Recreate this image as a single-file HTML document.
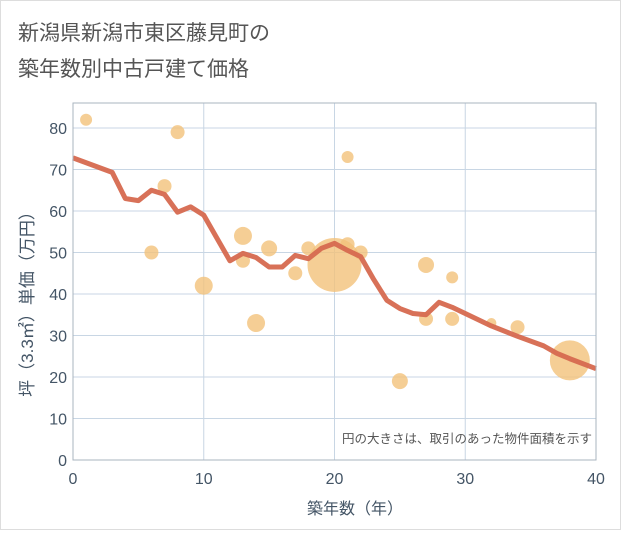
<!DOCTYPE html>
<html><head><meta charset="utf-8"><style>
body{margin:0;background:#fff}
svg text{font-family:"Liberation Sans","Noto Sans CJK JP",sans-serif}
</style></head><body>
<svg id="chart" width="621" height="530" viewBox="0 0 621 530" xmlns="http://www.w3.org/2000/svg">
<rect x="0.5" y="0.5" width="620" height="529" fill="#fff" stroke="#ddd"/>
<text x="18" y="40" font-size="21" fill="#555">新潟県新潟市東区藤見町の</text>
<text x="18" y="76" font-size="21" fill="#555">築年数別中古戸建て価格</text>
<g id="grid"></g>
<g id="bubbles"></g>
<g id="line"></g>
<g id="axes"></g>
<text x="592" y="443" font-size="12.5" fill="#555" text-anchor="end">円の大きさは、取引のあった物件面積を示す</text>
<text x="355" y="514" font-size="16" fill="#456" text-anchor="middle">築年数（年）</text>
<text transform="translate(33,300) rotate(-90)" font-size="17" fill="#456" text-anchor="middle">坪（3.3㎡）単価（万円）</text>
</svg>
<script>
const xTicks=[0,10,20,30,40];
const yTicks=[0,10,20,30,40,50,60,70,80];
const bubbleYears=[1,8,7,6,10,13,13,14,15,17,18,20,21,21,22,25,27,27,29,29,32,34,38];
const bubbleValues=[82,79,66,50,42,54,48,33,51,45,51,47,52,73,50,19,47,34,44,34,33,32,24];
const bubbleRadii=[6,7,7,7,9,9,7,9,8,7,7,27,7,6,7,8,8,7,6,7,5,7,20];
const lineYears=[0,3,4,5,6,7,8,9,10,11,12,13,14,15,16,17,18,19,20,21,22,23,24,25,26,27,28,29,30,32,34,36,37,38,40];
const lineValues=[72.8,69.3,63,62.5,65,64,59.7,61,59,53.5,48,49.8,48.8,46.5,46.5,49.3,48.5,51,52.2,50.5,49,43.5,38.5,36.5,35.3,35,38,36.8,35.3,32.3,29.8,27.5,25.7,24.4,22];
const L=73,R=596,T=103,B=460;
const xS=v=>L+(v-0)/40*(R-L);
const yS=v=>B-v/80*(B-128);
const NS="http://www.w3.org/2000/svg";
function mk(tag,attrs,parent){const e=document.createElementNS(NS,tag);for(const k in attrs)e.setAttribute(k,attrs[k]);parent.appendChild(e);return e;}
const grid=document.getElementById('grid'),axes=document.getElementById('axes');
yTicks.forEach(t=>{
 const l=mk('line',{x1:L,x2:R,y1:yS(t),y2:yS(t),stroke:'#c8d6e4','stroke-width':1},grid);
 
 
 const tx=mk('text',{x:L-6,y:yS(t)+6,'font-size':16,fill:'#456','text-anchor':'end'},axes);
 tx.textContent=t;
 
 
});
xTicks.forEach(t=>{
 const l=mk('line',{x1:xS(t),x2:xS(t),y1:T,y2:B,stroke:'#c8d6e4','stroke-width':1},grid);
 
 
 const tx=mk('text',{x:xS(t),y:B+24,'font-size':16,fill:'#456','text-anchor':'middle'},axes);
 tx.textContent=t;
 
 
});
const fr=mk('rect',{x:L,y:T,width:R-L,height:B-T,fill:'none',stroke:'#aab4bf','stroke-width':1},axes);


const bg=document.getElementById('bubbles');
bubbleYears.forEach((yr,i)=>{
 const c=mk('circle',{cx:xS(yr),cy:yS(bubbleValues[i]),r:bubbleRadii[i],fill:'#f3c27a','fill-opacity':0.8},bg);
 
 
});
const p=mk('polyline',{points:lineYears.map((x,i)=>xS(x)+','+yS(lineValues[i])).join(' '),fill:'none',stroke:'#d6694f','stroke-width':5,'stroke-linejoin':'round','stroke-opacity':0.95},document.getElementById('line'));


</script>
</body></html>
